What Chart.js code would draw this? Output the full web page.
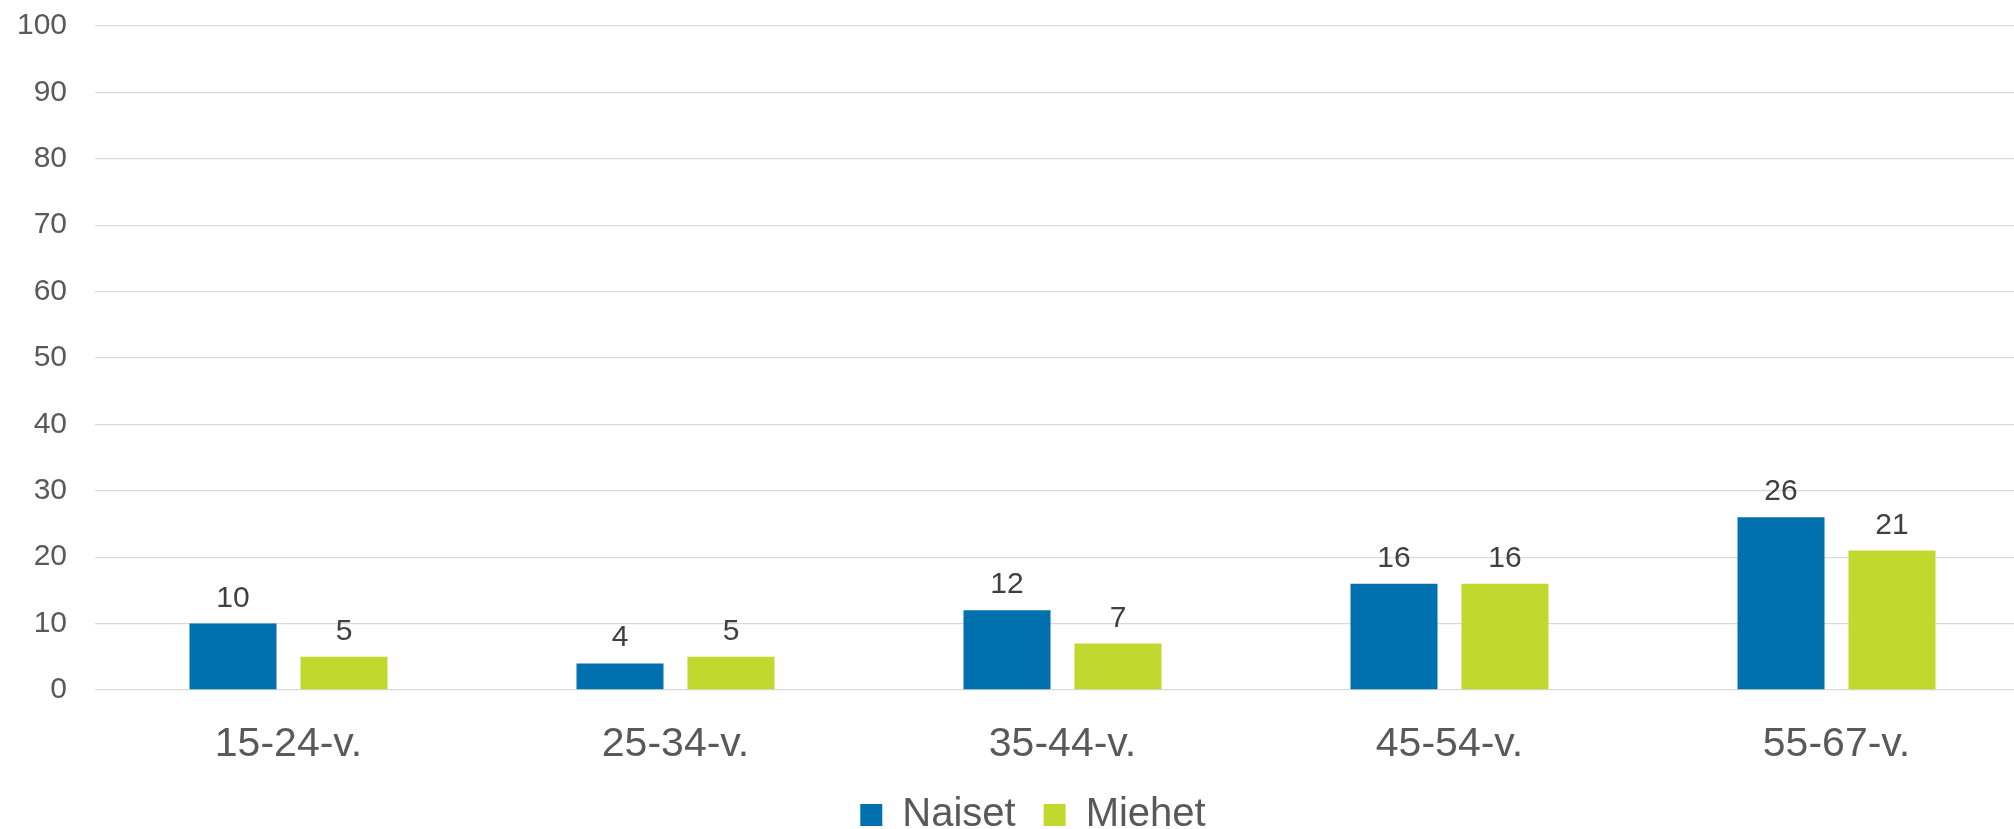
<!DOCTYPE html>
<html>
<head>
<meta charset="utf-8">
<script src="https://cdn.jsdelivr.net/npm/chart.js@4.4.1/dist/chart.umd.min.js"></script>
<style>
  html, body { margin: 0; padding: 0; background: #fff; overflow: hidden; }
  #wrap { width: 2014px; height: 829px; overflow: hidden; }
</style>
</head>
<body>
<div id="wrap"><canvas id="ikaChart" width="2030" height="829"></canvas></div>
<script>
// Data
const ikaryhmat = ['15-24-v.', '25-34-v.', '35-44-v.', '45-54-v.', '55-67-v.'];
const naiset = [10, 4, 12, 16, 26];
const miehet = [5, 5, 7, 16, 21];
const yTicks = [0, 10, 20, 30, 40, 50, 60, 70, 80, 90, 100];

Chart.defaults.font.family = '"Liberation Sans", Arial, sans-serif';

// Arvot pylväiden yläpuolelle
const arvoPlugin = {
    id: 'arvot',
    afterDatasetsDraw(chart) {
        const ctx = chart.ctx;
        ctx.save();
        ctx.font = '30px "Liberation Sans", Arial, sans-serif';
        ctx.fillStyle = '#404040';
        ctx.textAlign = 'center';
        ctx.textBaseline = 'alphabetic';
        chart.data.datasets.forEach((ds, i) => {
            chart.getDatasetMeta(i).data.forEach((bar, j) => {
                ctx.fillText(String(ds.data[j]), bar.x, bar.y - 17);
            });
        });
        ctx.restore();
    }
};

// selite hieman oikealle
const selitePlugin = {
    id: 'selite',
    afterLayout(chart) {
        if (chart.legend) {
            chart.legend.left += 18;
            chart.legend.right += 18;
        }
    }
};

const ctx = document.getElementById('ikaChart').getContext('2d');
const ikaChart = new Chart(ctx, {
    type: 'bar',
    data: {
        labels: ikaryhmat,
        datasets: [{
            label: 'Naiset',
            data: naiset,
            backgroundColor: '#0071AE',
            categoryPercentage: 0.5736,
            barPercentage: 0.784
        }, {
            label: 'Miehet',
            data: miehet,
            backgroundColor: '#C1D82F',
            categoryPercentage: 0.5736,
            barPercentage: 0.784
        }]
    },
    options: {
        responsive: false,
        devicePixelRatio: 1,
        animation: false,
        layout: {
            padding: { top: 26, right: 0, bottom: 0, left: 0 }
        },
        plugins: {
            tooltip: { enabled: false },
            legend: {
                position: 'bottom',
                maxHeight: 62,
                labels: {
                    boxWidth: 22,
                    boxHeight: 22,
                    padding: 28,
                    color: '#595959',
                    font: { size: 40 }
                }
            }
        },
        scales: {
            x: {
                grid: { display: false, drawTicks: false },
                border: { display: false },
                ticks: {
                    color: '#595959',
                    font: { size: 41 },
                    padding: 30,
                    maxRotation: 0
                },
                afterFit(scale) { scale.height = 77; }
            },
            y: {
                min: 0,
                max: 100,
                ticks: {
                    stepSize: 10,
                    color: '#595959',
                    font: { size: 30 },
                    padding: 28,
                    callback: (v) => yTicks.includes(v) ? String(v) : ''
                },
                grid: { color: '#D9D9D9', lineWidth: 1.3, drawTicks: false },
                border: { display: false },
                afterFit(scale) {
                    scale.width = 95;
                    scale.paddingTop = 0;
                    scale.paddingBottom = 0;
                }
            }
        }
    },
    plugins: [arvoPlugin, selitePlugin]
});
</script>
</body>
</html>
